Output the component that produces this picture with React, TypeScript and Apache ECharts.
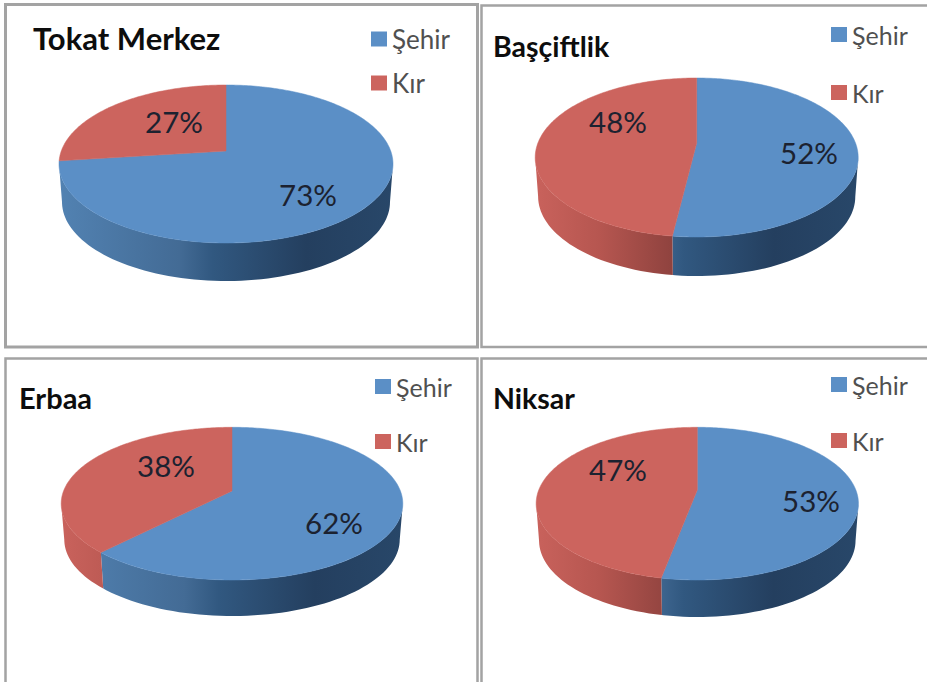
import React, { useEffect, useRef } from "react";
import * as echarts from "echarts";

const districts = ["Tokat Merkez", "Başçiftlik", "Erbaa", "Niksar"];
const categories = ["Şehir", "Kır"];
const sehirValues = [73, 52, 62, 53];
const kirValues = [27, 48, 38, 47];

const FONT = "Lato, Carlito, 'Open Sans', sans-serif";
const TOP_COLORS = ["#5b8fc6", "#cc645e"];
const WALL_STOPS = [
  [
    { offset: 0, color: "#5282b2" },
    { offset: 0.36, color: "#436b95" },
    { offset: 0.46, color: "#315880" },
    { offset: 0.74, color: "#243f5f" },
    { offset: 1, color: "#284769" },
  ],
  [
    { offset: 0, color: "#c9625c" },
    { offset: 0.2, color: "#b65650" },
    { offset: 0.42, color: "#90433f" },
    { offset: 1, color: "#90433f" },
  ],
];

// Layout of each panel (px): pie apex, rim extents, wall depth and texts.
const layout = [
  {
    frame: [5.5, 4.5, 472, 342.5], apexX: 226, apexY: 151, top: 85, bottom: 243, left: 59, right: 393, depth: 38,
    labels: [[308, 194.5], [174, 121.5]],
    title: [33, 22, 31], legend: [371, 26, 18, 26],
  },
  {
    frame: [481.5, 5.5, 460, 341.5], apexX: 696.7, apexY: 143, top: 78, bottom: 237, left: 535, right: 858, depth: 39,
    labels: [[809, 152.5], [618, 121.5]],
    title: [493, 31, 28.5], legend: [831, 22, 33, 25],
  },
  {
    frame: [5.5, 358.5, 472, 340], apexX: 232, apexY: 491, top: 427.3, bottom: 580, left: 61.7, right: 403.3, depth: 36,
    labels: [[334, 522.5], [166, 465.5]],
    title: [19, 383, 29], legend: [375, 374, 30, 25],
  },
  {
    frame: [481.5, 358.5, 460, 340], apexX: 697.3, apexY: 490, top: 427.3, bottom: 580, left: 535, right: 857.3, depth: 37,
    labels: [[811, 500.5], [618, 469.5]],
    title: [493, 383, 28.5], legend: [831, 372, 31, 25],
  },
];

// Projective mapping of the pie's unit circle: gives the 3-D tilt of the reference.
function projector(p: (typeof layout)[number]) {
  const up = p.apexY - p.top;
  const down = p.bottom - p.apexY;
  const k = (down - up) / (down + up);
  const h = up * (1 + k);
  const rx = (p.right - p.left) / 2;
  const w = rx * Math.sqrt(1 - k * k);
  const project = (deg: number): [number, number] => {
    const a = (deg * Math.PI) / 180;
    const u = Math.sin(a);
    const v = Math.cos(a);
    const d = 1 + k * v;
    return [p.apexX + (w * u) / d, p.apexY - (h * v) / d];
  };
  // Rim angle past which the wall turns out of view (the silhouette's x-extreme).
  return { project, hidden: (Math.asin(k) * 180) / Math.PI };
}

function sweep(from: number, to: number, step: number) {
  const out: number[] = [];
  for (let a = from; a < to; a += step) out.push(a);
  out.push(to);
  return out;
}

function renderSlice(seriesIdx: number) {
  return (params: any, api: any) => {
    const i = params.dataIndex;
    const p = layout[i];
    const value = api.value(0);
    const start = seriesIdx === 0 ? 0 : sehirValues[i] * 3.6;
    const end = start + value * 3.6;
    const { project, hidden } = projector(p);
    const children: any[] = [];

    const wallFrom = Math.max(start, 90 + hidden);
    const wallTo = Math.min(end, 270 - hidden);
    if (wallTo > wallFrom) {
      const cx = p.apexX;
      const upper = sweep(wallFrom, wallTo, 2).map(project);
      const lower = upper
        .map(([x, y]) => [cx + (x - cx) * 0.982, y + p.depth] as [number, number])
        .reverse();
      children.push({
        type: "polygon",
        shape: { points: [...upper, ...lower] },
        style: {
          fill: new echarts.graphic.LinearGradient(p.left, 0, p.right, 0, WALL_STOPS[seriesIdx], true),
        },
      });
    }

    children.push({
      type: "polygon",
      shape: { points: [[p.apexX, p.apexY], ...sweep(start, end, 1).map(project)] },
      style: { fill: TOP_COLORS[seriesIdx], stroke: TOP_COLORS[seriesIdx], lineWidth: 0.5 },
    });

    const [lx, ly] = p.labels[seriesIdx];
    children.push({
      type: "text",
      style: {
        text: `${value}%`,
        x: lx,
        y: ly,
        align: "center",
        verticalAlign: "middle",
        fontFamily: FONT,
        fontSize: 29.5,
        fill: "#1c2230",
      },
    });
    return { type: "group", children };
  };
}

export default function App() {
  const ref = useRef<HTMLDivElement>(null);
  useEffect(() => {
    const chart = echarts.init(ref.current!, null, { renderer: "svg" });
    chart.setOption({
      animation: false,
      backgroundColor: "#ffffff",
      title: districts.map((name, i) => ({
        text: name,
        left: layout[i].title[0],
        top: layout[i].title[1],
        padding: 0,
        textStyle: {
          fontFamily: FONT,
          fontWeight: "bold",
          fontSize: layout[i].title[2],
          color: "#0d0d0d",
        },
      })),
      legend: layout.map((p) => ({
        data: categories,
        orient: "vertical",
        left: p.legend[0],
        top: p.legend[1],
        padding: 0,
        itemGap: p.legend[2],
        itemWidth: 16,
        itemHeight: 15,
        icon: "rect",
        selectedMode: false,
        textStyle: { fontFamily: FONT, fontSize: p.legend[3], color: "#505050" },
      })),
      graphic: layout.map((p, i) => ({
        type: "rect",
        shape: { x: p.frame[0], y: p.frame[1], width: p.frame[2], height: p.frame[3] },
        style: { fill: "none", stroke: "#a3a3a3", lineWidth: i === 0 ? 3 : 2.5 },
        z: -1,
      })),
      series: [sehirValues, kirValues].map((values, s) => ({
        type: "custom",
        name: categories[s],
        coordinateSystem: "none",
        clip: false,
        itemStyle: { color: TOP_COLORS[s] },
        data: values.map((v) => [v]),
        renderItem: renderSlice(s),
      })),
    });
    return () => chart.dispose();
  }, []);
  return <div ref={ref} style={{ position: "absolute", left: 0, top: 0, width: 927, height: 682 }} />;
}
